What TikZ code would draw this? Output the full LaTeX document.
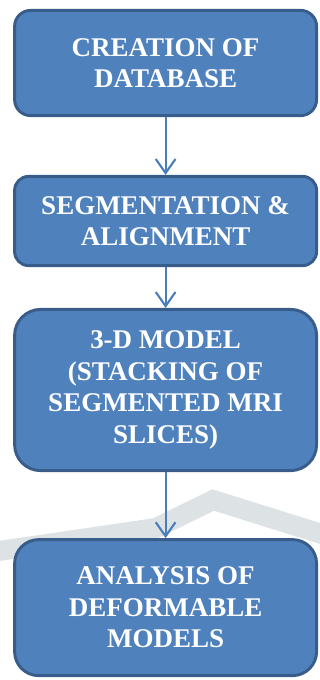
\documentclass[tikz,border=0pt]{standalone}
\usepackage{fontspec}
\setmainfont{Liberation Serif}
\usetikzlibrary{arrows.meta}
\definecolor{boxfill}{RGB}{79,129,189}
\definecolor{boxline}{RGB}{56,93,138}
\definecolor{arrowblue}{RGB}{74,126,187}
\definecolor{wmgray}{RGB}{221,226,229}
\begin{document}
\begin{tikzpicture}
\tikzstyle{stagebox}=[rectangle,draw=boxline,fill=boxfill,line width=2.1pt,text=white,align=center,inner sep=0pt,minimum width=7.55cm,font=\bfseries\fontsize{19.2}{22.4}\selectfont]
\tikzstyle{flow}=[draw=arrowblue,line width=1.5pt,-{Straight Barb[length=10pt,width=14pt]}]
\useasboundingbox (0,0) rectangle (8,-17);
\draw [wmgray,line width=0.5cm] (-0.2,-13.8) -- (3.9,-13.2) -- (5.33,-12.5) -- (8.2,-13.4);
\node [stagebox,minimum height=2.63cm,rounded corners=0.4cm] (db) at (4.14,-1.575) {CREATION OF\\DATABASE};
\node [stagebox,minimum height=2.23cm,rounded corners=0.35cm] (seg) at (4.14,-5.525) {SEGMENTATION \&\\ALIGNMENT};
\node [stagebox,minimum height=4.03cm,rounded corners=0.65cm] (model) at (4.14,-9.75) {3-D MODEL\\(STACKING OF\\SEGMENTED MRI\\SLICES)};
\node [stagebox,minimum height=3.4cm,rounded corners=0.6cm] (deform) at (4.14,-15.19) {ANALYSIS OF\\DEFORMABLE\\MODELS};
\draw [flow] (db) -- (seg);
\draw [flow] (seg) -- (model);
\draw [flow] (model) -- (deform);
\end{tikzpicture}
\end{document}
